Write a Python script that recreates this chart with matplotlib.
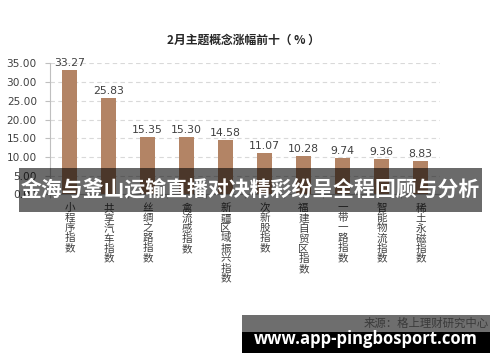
import matplotlib
matplotlib.use("Agg")
import matplotlib.pyplot as plt
from matplotlib.patches import Rectangle

plt.rcParams['font.family'] = ['Noto Sans CJK SC', 'DejaVu Sans']

categories = ["小程序指数", "共享汽车指数", "丝绸之路指数", "禽流感指数", "新疆区域振兴指数",
              "次新股指数", "福建自贸区指数", "一带一路指数", "智能物流指数", "稀土永磁指数"]
values = [33.27, 25.83, 15.35, 15.30, 14.58, 11.07, 10.28, 9.74, 9.36, 8.83]
yticks = [0, 5, 10, 15, 20, 25, 30, 35]
title = "2月主题概念涨幅前十（ % ）"
banner = "金海与釜山运输直播对决精彩纷呈全程回顾与分析"
source = "来源：格上理财研究中心"
site = "www.app-pingbosport.com"

W, H = 500, 362
fig = plt.figure(figsize=(W/100, H/100), dpi=100)
fig.patch.set_facecolor('white')

ax = fig.add_axes([50/W, 1 - 194.4/H, 390/W, 131/H])
x = list(range(len(values)))
ax.bar(x, values, width=0.38, color='#B38465', zorder=3)
ax.set_xlim(-0.5, len(values) - 0.5)
ax.set_ylim(0, 35)
ax.set_yticks(yticks)
ax.set_yticklabels([f"{v:.2f}" for v in yticks], fontsize=7.6, color='#404040',
                   family=['DejaVu Sans'])
ax.yaxis.grid(True, linestyle=(0, (4, 3)), color='#d9d9d9', linewidth=0.8, zorder=0)
for s in ['top', 'right']:
    ax.spines[s].set_visible(False)
for s in ['left', 'bottom']:
    ax.spines[s].set_color('#bfbfbf')
    ax.spines[s].set_linewidth(0.8)
ax.tick_params(axis='y', length=3.6, color='#bfbfbf', pad=5.8)
ax.set_xticks([i + 0.5 for i in range(-1, len(values))], minor=False)
ax.set_xticklabels([])
ax.tick_params(axis='x', length=3, color='#bfbfbf')
for i, (c, v) in enumerate(zip(categories, values)):
    ax.text(i, v + 0.5, f"{v:.2f}", ha='center', va='bottom', fontsize=7.8, color='#404040',
            family=['DejaVu Sans'], zorder=4)
    ax.text(i, -2.4, "\n".join(c), ha='center', va='top', fontsize=7.6, color='#404040',
            linespacing=1.0)

fig.text(243/W, 1 - 40/H, title, ha='center', va='center', fontsize=8.5, fontweight='bold', color='#262626')

# banner overlay
fig.patches.append(Rectangle((19/W, 1 - 212/H), 463/W, 44/H, transform=fig.transFigure,
                             facecolor='black', alpha=0.58, edgecolor='none', zorder=10))
fig.text(250/W, 1 - 189/H, banner, ha='center', va='center', fontsize=15, fontweight='bold',
         color='white', zorder=11)

# source / site boxes
fig.patches.append(Rectangle((242/W, 1 - 332/H), 248/W, 17/H, transform=fig.transFigure,
                             facecolor='#6e6e6e', edgecolor='none', zorder=10))
fig.text(489/W, 1 - 323/H, source, ha='right', va='center', fontsize=8.2, color='#3a3a3a', zorder=11)
fig.patches.append(Rectangle((242/W, 1 - 353/H), 248/W, 21/H, transform=fig.transFigure,
                             facecolor='black', edgecolor='none', zorder=10))
fig.text(366/W, 1 - 339/H, site, ha='center', va='center', fontsize=12, fontweight='bold',
         color='white', family=['Open Sans', 'DejaVu Sans'], zorder=11)

fig.savefig('out.png', dpi=100)
